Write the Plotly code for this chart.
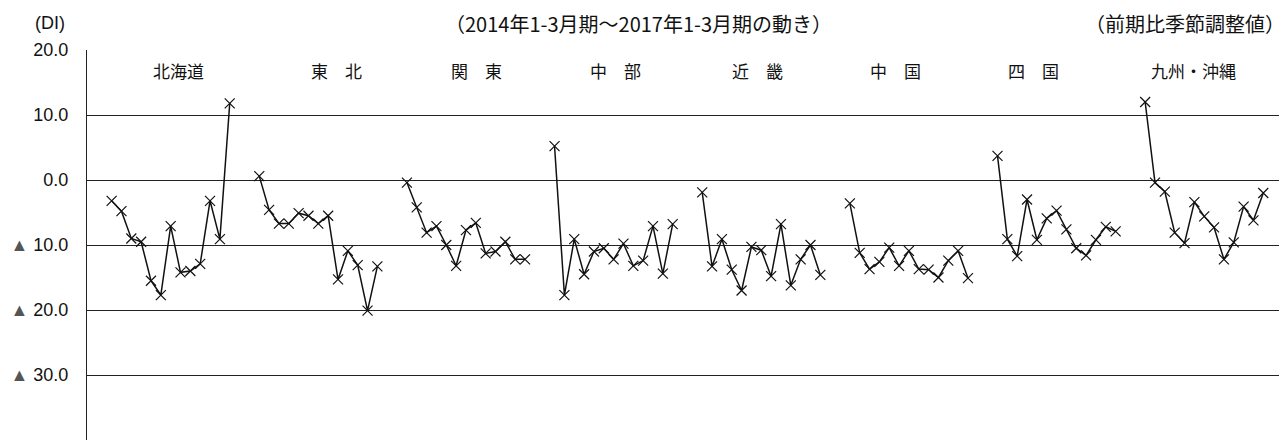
import plotly.graph_objects as go

regions = ["北海道", "東　北", "関　東", "中　部", "近　畿", "中　国", "四　国", "九州・沖縄"]

hokkaido = [-3.2, -4.8, -9.0, -9.5, -15.5, -17.7, -7.1, -14.2, -14.0, -12.9, -3.2, -9.1, 11.8]
tohoku   = [0.6, -4.6, -6.7, -6.7, -5.1, -5.5, -6.7, -5.5, -15.3, -10.9, -13.1, -20.1, -13.3]
kanto    = [-0.4, -4.2, -8.1, -7.1, -10.0, -13.2, -7.7, -6.6, -11.3, -11.0, -9.5, -12.2, -12.2]
chubu    = [5.2, -17.7, -9.1, -14.5, -11.0, -10.5, -12.2, -9.8, -13.2, -12.4, -7.1, -14.4, -6.8]
kinki    = [-1.9, -13.3, -9.1, -13.8, -17.0, -10.3, -10.8, -14.8, -6.8, -16.2, -12.2, -10.0, -14.6]
chugoku  = [-3.6, -11.2, -13.7, -12.6, -10.4, -13.2, -10.9, -13.7, -13.8, -15.0, -12.4, -10.9, -15.1]
shikoku  = [3.7, -9.1, -11.7, -3.0, -9.2, -5.9, -4.7, -7.6, -10.5, -11.6, -9.2, -7.2, -7.9]
kyushu   = [12.0, -0.4, -1.8, -8.1, -9.7, -3.4, -5.6, -7.3, -12.2, -9.6, -4.1, -6.2, -2.0]

series = [hokkaido, tohoku, kanto, chubu, kinki, chugoku, shikoku, kyushu]

tick_vals = [20, 10, 0, -10, -20, -30, -40]
tick_text = ["20.0", "10.0", "0.0",
             '<span style="color:#555">▲</span> 10.0',
             '<span style="color:#555">▲</span> 20.0',
             '<span style="color:#555">▲</span> 30.0',
             '<span style="color:#555">▲</span> 40.0']

SLOTS = 15   # quarter slots per region (13 quarters + 2 gaps)
LEAD = 2     # leading empty slots
label_pos = [8.80, 24.80, 39.02, 53.14, 67.57, 81.59, 95.61, 111.86]

fig = go.Figure()
for r, vals in enumerate(series):
    xs = [r * SLOTS + LEAD + q for q in range(len(vals))]
    fig.add_trace(go.Scatter(
        x=xs, y=vals, mode="lines+markers",
        line=dict(color="#111", width=1.5),
        marker=dict(symbol="x-thin-open", size=10, color="#111",
                    line=dict(color="#111", width=1.2)),
        showlegend=False, hoverinfo="skip", cliponaxis=False,
    ))

for name, xp in zip(regions, label_pos):
    fig.add_annotation(x=xp, y=16.9, xref="x", yref="y", text=name,
                       showarrow=False,
                       font=dict(family="Noto Sans CJK JP", size=17, color="#111"))

TOP = (440 - 8) / 390   # top edge of the figure in paper units
fig.add_annotation(x=(638 - 87) / 1194, y=TOP, xref="paper", yref="paper",
                   text="（2014年1-3月期～2017年1-3月期の動き）", showarrow=False,
                   xanchor="center", yanchor="top", borderpad=0,
                   font=dict(family="Noto Sans CJK JP", size=20, color="#111"))
fig.add_annotation(x=(1286 - 87) / 1194, y=TOP, xref="paper", yref="paper",
                   text="（前期比季節調整値）", showarrow=False,
                   xanchor="right", yanchor="top", borderpad=0,
                   font=dict(family="Noto Sans CJK JP", size=20, color="#111"))
fig.add_annotation(x=(33 - 87) / 1194, y=(440 - 23) / 390, xref="paper", yref="paper",
                   text="(DI)", showarrow=False,
                   xanchor="left", yanchor="middle",
                   font=dict(family="Liberation Sans", size=18, color="#111"))

fig.update_xaxes(range=[-0.5, 120.8], showgrid=False, zeroline=False,
                 showticklabels=False, ticks="", showline=False, automargin=False)
fig.update_yaxes(range=[-40, 20], tickvals=tick_vals, ticktext=tick_text,
                 showgrid=True, gridcolor="#222", gridwidth=1,
                 zeroline=False, showline=True, linecolor="#222", linewidth=1,
                 ticks="", ticklabelstandoff=14, automargin=False,
                 tickfont=dict(family="Liberation Sans", size=18, color="#111"))

# page body has an 8px default margin, so offset the figure margins accordingly
fig.update_layout(
    width=1287, height=441,
    margin=dict(l=79, r=14, t=42, b=9),
    paper_bgcolor="white", plot_bgcolor="white",
)

fig.write_html("out.html")
